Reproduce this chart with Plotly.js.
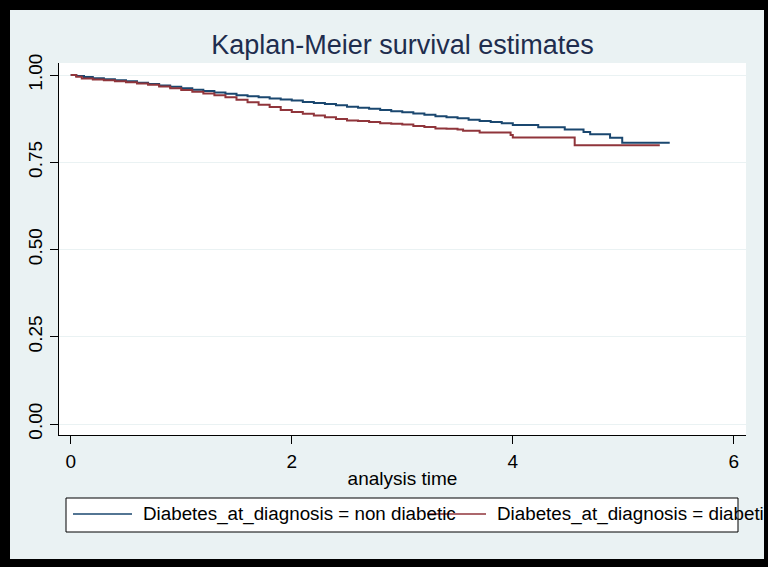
<!DOCTYPE html>
<html>
<head>
<meta charset="utf-8">
<script src="https://cdn.plot.ly/plotly-3.0.1.min.js"></script>
<style>
  html, body { margin: 0; padding: 0; background: #000; width: 768px; height: 567px; overflow: hidden; }
  #frame { position: absolute; left: 10px; top: 10px; width: 754px; height: 549px; overflow: hidden; background: #eaf2f3; }
  #chart { width: 754px; height: 549px; }
</style>
</head>
<body>
<div id="frame"><div id="chart"></div></div>
<script>
// Kaplan-Meier estimates
const nonDiabeticTime = [0, 0.05, 0.12, 0.2, 0.3, 0.4, 0.5, 0.6, 0.7, 0.8, 0.9, 1.0, 1.1, 1.2, 1.3, 1.4, 1.5, 1.6, 1.7, 1.8, 1.9, 2.0, 2.1, 2.2, 2.3, 2.4, 2.5, 2.6, 2.7, 2.8, 2.9, 3.0, 3.1, 3.2, 3.3, 3.4, 3.5, 3.6, 3.7, 3.8, 3.9, 4.0, 4.23, 4.47, 4.64, 4.70, 4.88, 4.99, 5.42];
const nonDiabeticSurv = [1.000, 0.997, 0.994, 0.991, 0.988, 0.985, 0.982, 0.978, 0.974, 0.970, 0.966, 0.962, 0.958, 0.954, 0.950, 0.946, 0.942, 0.939, 0.936, 0.933, 0.930, 0.927, 0.923, 0.920, 0.917, 0.913, 0.909, 0.906, 0.903, 0.900, 0.896, 0.893, 0.890, 0.886, 0.882, 0.879, 0.876, 0.872, 0.868, 0.865, 0.862, 0.857, 0.850, 0.844, 0.837, 0.830, 0.820, 0.806, 0.806];

const diabeticTime = [0, 0.05, 0.1, 0.2, 0.3, 0.4, 0.5, 0.6, 0.7, 0.8, 0.9, 1.0, 1.1, 1.2, 1.3, 1.4, 1.5, 1.6, 1.7, 1.8, 1.9, 2.0, 2.1, 2.2, 2.3, 2.4, 2.5, 2.6, 2.7, 2.8, 2.9, 3.0, 3.1, 3.2, 3.3, 3.4, 3.5, 3.55, 3.7, 3.98, 4.0, 4.56, 5.33];
const diabeticSurv = [1.000, 0.995, 0.990, 0.987, 0.985, 0.982, 0.979, 0.976, 0.972, 0.967, 0.962, 0.957, 0.952, 0.947, 0.942, 0.936, 0.929, 0.922, 0.915, 0.908, 0.900, 0.894, 0.889, 0.884, 0.879, 0.874, 0.870, 0.868, 0.865, 0.862, 0.860, 0.858, 0.854, 0.851, 0.847, 0.846, 0.844, 0.840, 0.835, 0.828, 0.821, 0.799, 0.799];

const seriesNames = ["Diabetes_at_diagnosis = non diabetic", "Diabetes_at_diagnosis = diabetic"];
const seriesColors = ['#1a476f', '#90353b'];
const xTicks = [0, 2, 4, 6];
const yTicks = [0, 0.25, 0.5, 0.75, 1];
const yTickLabels = ["0.00", "0.25", "0.50", "0.75", "1.00"];

const FONT = '"Liberation Sans", Arial, sans-serif';

// figure geometry (pixels inside the frame)
const W = 754, H = 549;
const M = { l: 49, r: 18, t: 53, b: 124 };
const PW = W - M.l - M.r, PH = H - M.t - M.b;
const px = v => (v - M.l) / PW;          // pixel x -> paper x
const py = v => (H - M.b - v) / PH;      // pixel y -> paper y

const traces = [
  { x: nonDiabeticTime, y: nonDiabeticSurv, name: seriesNames[0], type: 'scatter', mode: 'lines',
    line: { shape: 'hv', color: seriesColors[0], width: 2 } },
  { x: diabeticTime, y: diabeticSurv, name: seriesNames[1], type: 'scatter', mode: 'lines',
    line: { shape: 'hv', color: seriesColors[1], width: 2 } }
];

// Stata-style legend box (text allowed to overflow as in the original)
const legendItems = [
  { lineX0: 63, lineX1: 122, textX: 132 },
  { lineX0: 417, lineX1: 476, textX: 486 }
];
const legendY = 504;
const shapes = [
  { type: 'rect', xref: 'paper', yref: 'paper', x0: px(56), x1: px(728), y0: py(488), y1: py(522),
    line: { color: '#000000', width: 1 }, fillcolor: '#ffffff', layer: 'below' }
];
const annotations = [];
legendItems.forEach((it, i) => {
  annotations.push({ xref: 'paper', yref: 'paper', x: px(it.textX), y: py(legendY), xanchor: 'left', yanchor: 'middle',
    text: seriesNames[i], showarrow: false, font: { family: FONT, size: 18.8, color: '#000000' }, borderpad: 0 });
});
legendItems.forEach((it, i) => {
  shapes.push({ type: 'line', xref: 'paper', yref: 'paper', x0: px(it.lineX0), x1: px(it.lineX1),
    y0: py(legendY), y1: py(legendY), line: { color: seriesColors[i], width: 1.5 }, layer: 'above' });
});

const layout = {
  width: W, height: H,
  paper_bgcolor: '#eaf2f3',
  plot_bgcolor: '#ffffff',
  margin: M,
  font: { family: FONT, size: 19, color: '#000000' },
  title: { text: 'Kaplan-Meier survival estimates', xref: 'paper', x: 0.5, xanchor: 'center', y: 1 - 35 / H, yanchor: 'middle',
           font: { family: FONT, size: 27, color: '#1e2d4e' } },
  showlegend: false,
  shapes: shapes,
  annotations: annotations,
  xaxis: {
    range: [-0.106, 6.11], tickvals: xTicks, ticktext: xTicks.map(String),
    showgrid: false, zeroline: false, showline: true, linecolor: '#000000', linewidth: 1,
    ticks: 'outside', ticklen: 8, tickcolor: '#000000', tickwidth: 1, ticklabelstandoff: 1,
    tickfont: { family: FONT, size: 19 },
    title: { text: 'analysis time', font: { family: FONT, size: 19 }, standoff: 0 }
  },
  yaxis: {
    range: [-0.0315, 1.0344], tickvals: yTicks, ticktext: yTickLabels, tickangle: -90,
    showgrid: true, gridcolor: '#eaf2f3', gridwidth: 1, zeroline: false,
    showline: true, linecolor: '#000000', linewidth: 1,
    ticks: 'outside', ticklen: 8, tickcolor: '#000000', tickwidth: 1,
    tickfont: { family: FONT, size: 19 }
  }
};

Plotly.newPlot('chart', traces, layout, { displayModeBar: false, staticPlot: true });
</script>
</body>
</html>
